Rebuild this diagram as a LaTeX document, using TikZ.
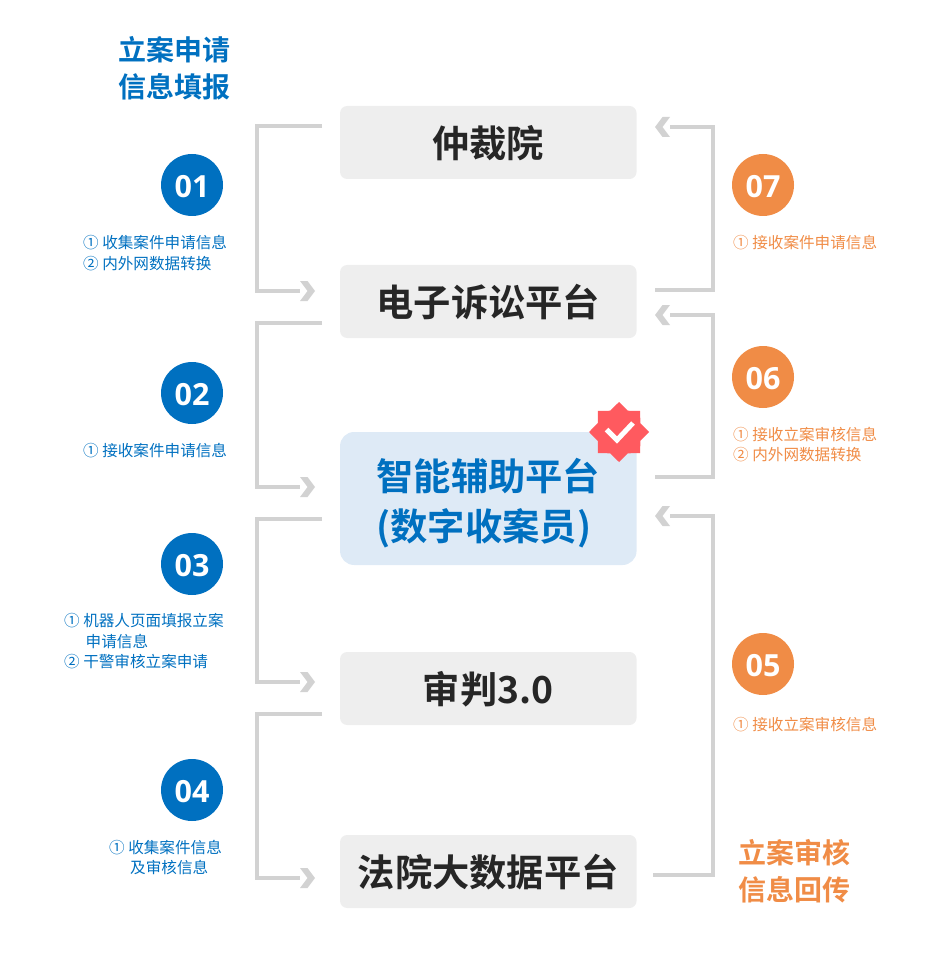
\documentclass[tikz,border=0pt]{standalone}
\usepackage{fontspec}
\setmainfont{Noto Sans CJK SC}[BoldFont={Noto Sans CJK SC Bold}]
\newfontfamily\numfont{Open Sans}
\usetikzlibrary{shapes.geometric}
\definecolor{blueM}{HTML}{0070C0}
\definecolor{orangeM}{HTML}{F08C46}
\definecolor{grayL}{HTML}{D2D2D2}
\definecolor{boxG}{HTML}{EEEEEE}
\definecolor{boxB}{HTML}{DEEAF6}
\definecolor{redB}{HTML}{FF5A5F}
\tikzset{
  x=1pt,y=-1pt,
  plat/.style={rectangle,rounded corners=7pt,minimum width=296.5pt,inner sep=0pt,fill=boxG,text=black!85,font=\fontsize{37.3}{49.5}\selectfont\bfseries},
  oneline/.style={plat,minimum height=73pt,text height=34.5pt,text depth=4pt},
  numc/.style={circle,minimum size=62pt,inner sep=0pt,text=white,text height=24.5pt,text depth=0pt,font=\numfont\fontsize{30.5}{31}\selectfont\bfseries},
  numb/.style={numc,fill=blueM},
  numo/.style={numc,fill=orangeM},
  conn/.style={draw=grayL,line width=4pt,line join=miter},
  title/.style={font=\fontsize{28}{37.5}\selectfont\bfseries,align=left,inner sep=0pt,anchor=west},
  note/.style={font=\fontsize{15.6}{20.5}\selectfont,align=left,inner sep=0pt,anchor=west},
  chev/.pic={\fill[grayL] (-7.5,-10) -- (0,-10) -- (7.5,0) -- (0,10) -- (-7.5,10) -- (0,0) -- cycle;}
}
\begin{document}
\begin{tikzpicture}
\useasboundingbox (0,0) rectangle (945,973);
% platforms
\node[oneline] (a) at (488.3,142.5) {仲裁院};
\node[oneline] (b) at (488.3,301.5) {电子诉讼平台};
\node[plat,minimum height=133pt,rounded corners=14pt,fill=boxB,text=blueM,align=left] (c) at (488.3,498.5) {\rule{0pt}{42pt}智能辅助平台\\(数字收案员)};
\node[oneline] (d) at (488.3,688.5) {审判3.0};
\node[oneline] (e) at (488.3,871.5) {法院大数据平台};
% badge
\node[star,star points=8,star point ratio=1.304,minimum size=60pt,inner sep=0pt,fill=redB] (badge) at (619,432) {};
\draw[white,line width=5pt] (606.5,429.5) -- (617,440) -- (633,423);
% titles
\node[title,text=blueM] (t1) at (118.5,68.5) {立案申请\\信息填报};
\node[title,text=orangeM] (t2) at (738.5,871) {立案审核\\信息回传};
% number circles
\node[numb] (n1) at (192,185) {01};
\node[numb] (n2) at (192,393) {02};
\node[numb] (n3) at (192,564) {03};
\node[numb] (n4) at (192,790) {04};
\node[numo] (n7) at (763,185) {07};
\node[numo] (n6) at (763,377) {06};
\node[numo] (n5) at (763,664) {05};
% notes
\node[note,text=blueM] (s1) at (83,253) {① 收集案件申请信息\\② 内外网数据转换};
\node[note,text=blueM] (s2) at (83,451) {① 接收案件申请信息};
\node[note,text=blueM] (s3) at (64,641.5) {① 机器人页面填报立案\\\hspace{21.5pt}申请信息\\② 干警审核立案申请};
\node[note,text=blueM] (s4) at (109,857.5) {① 收集案件信息\\\hspace{21pt}及审核信息};
\node[note,text=orangeM] (s7) at (733,243) {① 接收案件申请信息};
\node[note,text=orangeM] (s6) at (733,444.5) {① 接收立案审核信息\\② 内外网数据转换};
\node[note,text=orangeM] (s5) at (733,725) {① 接收立案审核信息};
% connector ends
\path (322,126) coordinate (L1a) (322,323) coordinate (L2a) (322,519) coordinate (L3a) (322,714) coordinate (L4a);
\path (300,291) coordinate (L1b) (300,487) coordinate (L2b) (300,682) coordinate (L3b) (300,878) coordinate (L4b);
\path (655,290) coordinate (R7a) (655,477) coordinate (R6a) (653,875) coordinate (R5a);
\path (670,127) coordinate (R7b) (670,315) coordinate (R6b) (670,516) coordinate (R5b);
% left connectors
\draw[conn] (L1a) -- (257,126) -- (257,291) -- (L1b);
\draw[conn] (L2a) -- (257,323) -- (257,487) -- (L2b);
\draw[conn] (L3a) -- (257,519) -- (257,682) -- (L3b);
\draw[conn] (L4a) -- (257,714) -- (257,878) -- (L4b);
\foreach \p in {L1b,L2b,L3b,L4b}{\path (\p) ++(7.5,0) pic {chev};}
% right connectors
\draw[conn] (R7a) -- (713,290) -- (713,127) -- (R7b);
\draw[conn] (R6a) -- (713,477) -- (713,315) -- (R6b);
\draw[conn] (R5a) -- (713,875) -- (713,516) -- (R5b);
\foreach \p in {R7b,R6b,R5b}{\path (\p) ++(-7.5,0) pic[xscale=-1] {chev};}
\end{tikzpicture}
\end{document}
